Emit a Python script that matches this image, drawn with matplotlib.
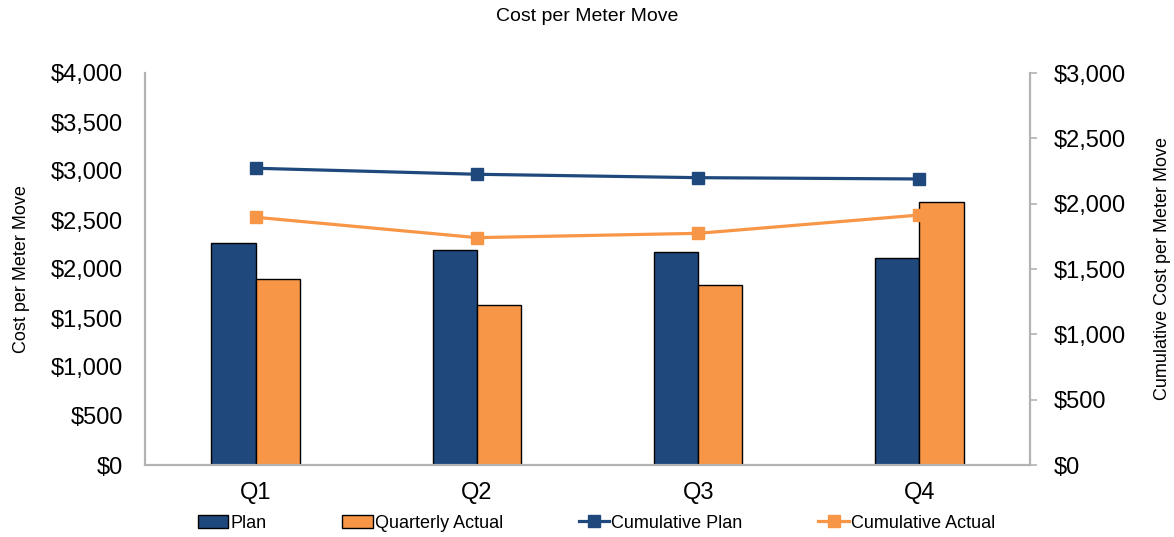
import matplotlib.pyplot as plt
from matplotlib.ticker import FuncFormatter

plt.rcParams['font.family'] = ['Liberation Sans', 'DejaVu Sans']

quarters = ['Q1', 'Q2', 'Q3', 'Q4']
plan = [2268, 2197, 2170, 2109]
quarterly_actual = [1895, 1629, 1833, 2680]
cumulative_plan = [2271, 2225, 2199, 2189]
cumulative_actual = [1896, 1740, 1773, 1913]

navy = '#1F497D'
orange = '#F79646'
grey = '#B3B3B3'

fig = plt.figure(figsize=(11.74, 5.37), dpi=100)
ax = fig.add_axes([145 / 1174, 1 - 465 / 537, 885 / 1174, 392 / 537])
ax2 = ax.twinx()

x = list(range(len(quarters)))
w = 0.2
b1 = ax.bar([i - w / 2 for i in x], plan, w, color=navy, edgecolor='black', linewidth=1, label='Plan')
b2 = ax.bar([i + w / 2 for i in x], quarterly_actual, w, color=orange, edgecolor='black', linewidth=1,
            label='Quarterly Actual')
l1, = ax2.plot(x, cumulative_plan, color=navy, lw=2.3, marker='s', ms=8, label='Cumulative Plan')
l2, = ax2.plot(x, cumulative_actual, color=orange, lw=2.3, marker='s', ms=8, label='Cumulative Actual')

ax.set_xlim(-0.5, 3.5)
ax.set_ylim(0, 4000)
ax2.set_ylim(0, 3000)
ax.set_yticks(range(0, 4001, 500))
ax2.set_yticks(range(0, 3001, 500))
money = FuncFormatter(lambda v, p: '${:,.0f}'.format(v))
ax.yaxis.set_major_formatter(money)
ax2.yaxis.set_major_formatter(money)
ax.set_xticks(x)
ax.set_xticklabels(quarters)

for a in (ax, ax2):
    for s in a.spines.values():
        s.set_color(grey)
        s.set_linewidth(1.5)
    a.spines['top'].set_visible(False)
    a.tick_params(length=0, labelsize=17)
ax.tick_params(axis='y', pad=16)
ax2.tick_params(axis='y', length=5, width=1.2, color=grey, pad=12)
ax.tick_params(axis='x', pad=12)

ax.set_ylabel('Cost per Meter Move', fontsize=13, labelpad=15)
ax2.set_ylabel('Cumulative Cost per Meter Move', fontsize=13, labelpad=20)
fig.suptitle('Cost per Meter Move', fontsize=14, y=0.985)

fig.legend(handles=[b1, b2, l1, l2], loc='center', bbox_to_anchor=(0.508, 1 - 523 / 537), ncol=4,
           frameon=False, fontsize=13, handlelength=1.7, handletextpad=0.1, columnspacing=4.2)

fig.savefig('out.png', dpi=100)
